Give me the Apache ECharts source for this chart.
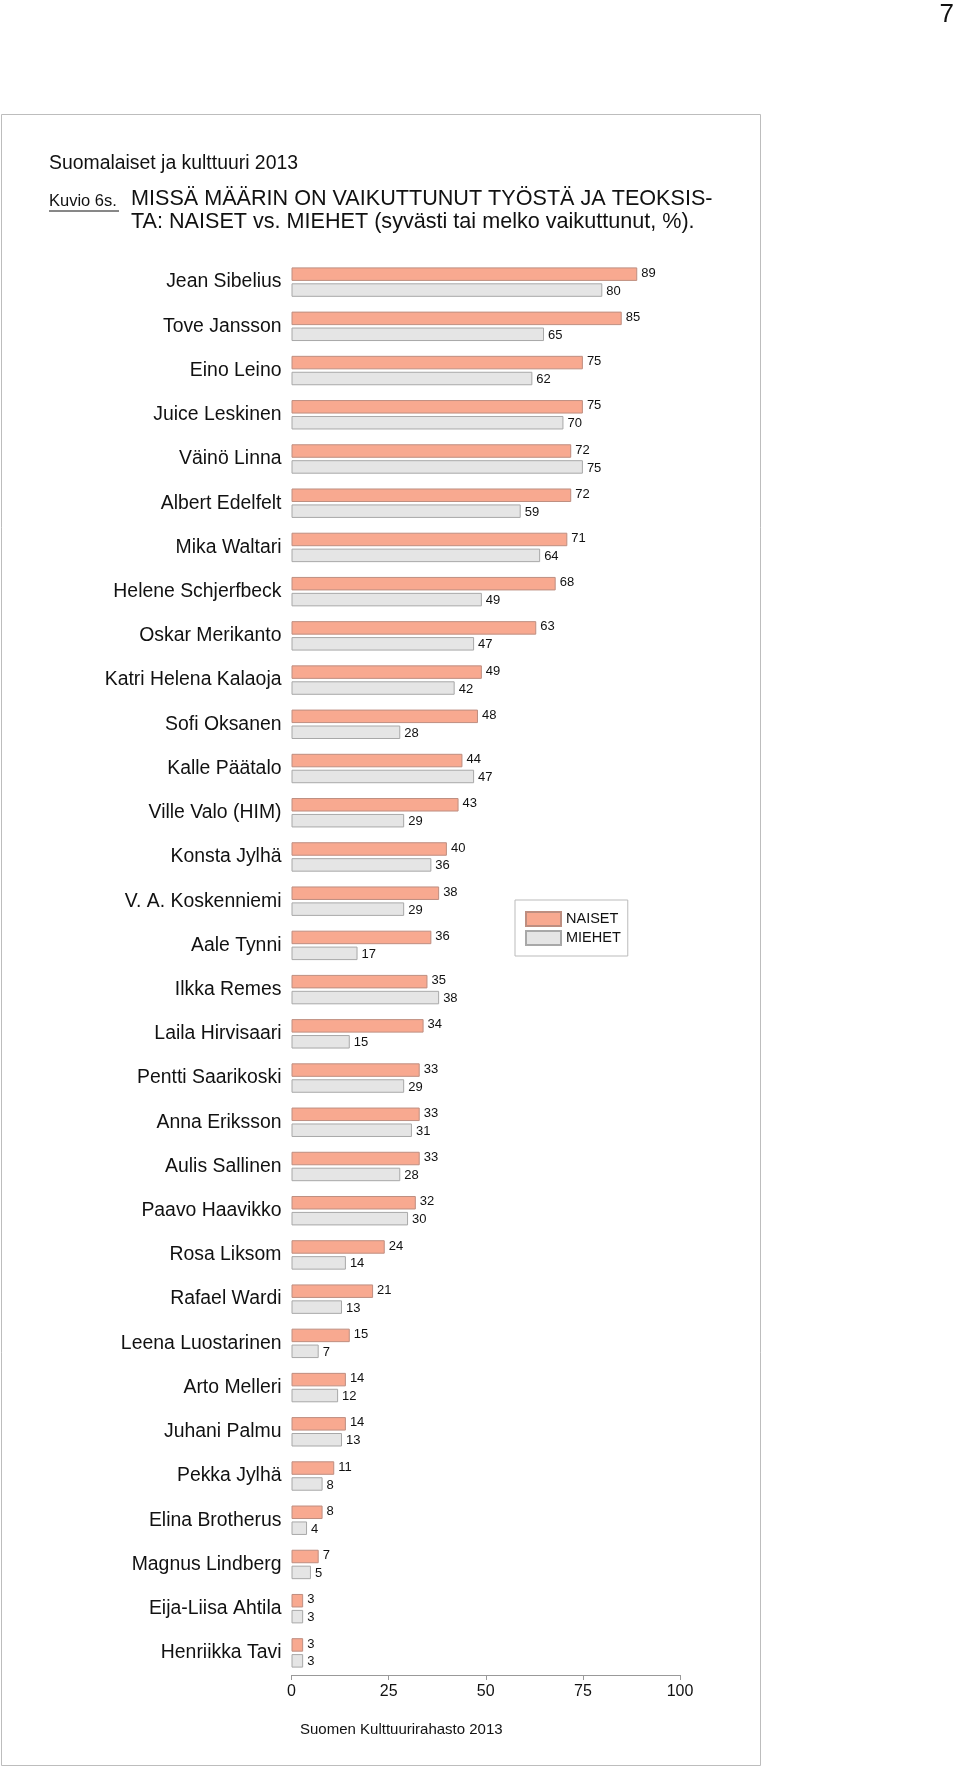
<!DOCTYPE html>
<html>
<head>
<meta charset="utf-8">
<script src="https://cdn.jsdelivr.net/npm/echarts@6/dist/echarts.min.js"></script>
<style>
  html, body { margin: 0; padding: 0; background: #fff; }
  #chart { width: 960px; height: 1770px; }
</style>
</head>
<body>
<div id="chart"></div>
<script>
var names = [
  'Jean Sibelius', 'Tove Jansson', 'Eino Leino', 'Juice Leskinen', 'Väinö Linna',
  'Albert Edelfelt', 'Mika Waltari', 'Helene Schjerfbeck', 'Oskar Merikanto',
  'Katri Helena Kalaoja', 'Sofi Oksanen', 'Kalle Päätalo', 'Ville Valo (HIM)',
  'Konsta Jylhä', 'V. A. Koskenniemi', 'Aale Tynni', 'Ilkka Remes', 'Laila Hirvisaari',
  'Pentti Saarikoski', 'Anna Eriksson', 'Aulis Sallinen', 'Paavo Haavikko',
  'Rosa Liksom', 'Rafael Wardi', 'Leena Luostarinen', 'Arto Melleri', 'Juhani Palmu',
  'Pekka Jylhä', 'Elina Brotherus', 'Magnus Lindberg', 'Eija-Liisa Ahtila', 'Henriikka Tavi'
];
var naiset = [89, 85, 75, 75, 72, 72, 71, 68, 63, 49, 48, 44, 43, 40, 38, 36, 35, 34, 33, 33, 33, 32, 24, 21, 15, 14, 14, 11, 8, 7, 3, 3];
var miehet = [80, 65, 62, 70, 75, 59, 64, 49, 47, 42, 28, 47, 29, 36, 29, 17, 38, 15, 29, 31, 28, 30, 14, 13, 7, 12, 13, 8, 4, 5, 3, 3];
var xTicks = [0, 25, 50, 75, 100];

var font = '"Liberation Sans", Arial, Helvetica, sans-serif';

var myChart = echarts.init(document.getElementById('chart'));
var option;

option = {
  backgroundColor: '#fff',
  animation: false,
  textStyle: { fontFamily: font },
  graphic: [
    { type: 'rect', shape: { x: 1.5, y: 114.5, width: 759, height: 1651 },
      style: { fill: 'none', stroke: '#bdbdbd', lineWidth: 1 } },
    { type: 'text', right: 6, top: 2,
      style: { text: '7', font: '26px ' + font, fill: '#111' } },
    { type: 'text', x: 49, y: 164,
      style: { text: 'Suomalaiset ja kulttuuri 2013', font: '19.4px ' + font, fill: '#111', textVerticalAlign: 'middle' } },
    { type: 'text', x: 49, y: 201,
      style: { text: 'Kuvio 6s.', font: '16.5px ' + font, fill: '#111', textVerticalAlign: 'middle' } },
    { type: 'line', shape: { x1: 49, y1: 211, x2: 119, y2: 211 },
      style: { stroke: '#111', lineWidth: 1 } },
    { type: 'text', x: 131, y: 199,
      style: { text: 'MISSÄ MÄÄRIN ON VAIKUTTUNUT TYÖSTÄ JA TEOKSIS-', font: '21.6px ' + font, fill: '#111', textVerticalAlign: 'middle' } },
    { type: 'text', x: 131, y: 222,
      style: { text: 'TA: NAISET vs. MIEHET (syvästi tai melko vaikuttunut, %).', font: '21.6px ' + font, fill: '#111', textVerticalAlign: 'middle' } },
    { type: 'text', x: 300, y: 1730,
      style: { text: 'Suomen Kulttuurirahasto 2013', font: '15px ' + font, fill: '#111', textVerticalAlign: 'middle' } }
  ],
  legend: {
    orient: 'vertical',
    left: 515,
    top: 900,
    padding: [11, 7, 10, 10],
    itemWidth: 35,
    itemHeight: 14,
    itemGap: 3,
    borderColor: '#bbb',
    borderWidth: 1,
    icon: 'rect',
    textStyle: { fontSize: 14.5, color: '#111', fontFamily: font },
    data: ['NAISET', 'MIEHET']
  },
  grid: {
    left: 291.5,
    width: 388.5,
    top: 260,
    height: 1415
  },
  xAxis: {
    type: 'value',
    min: 0,
    max: 100,
    interval: 25,
    axisLine: { show: true, lineStyle: { color: '#999' } },
    axisTick: { show: true, length: 5, lineStyle: { color: '#999' } },
    axisLabel: {
      fontSize: 16, color: '#111', margin: 9,
      formatter: function (v) { return xTicks.indexOf(v) >= 0 ? String(v) : ''; }
    },
    splitLine: { show: false }
  },
  yAxis: {
    type: 'category',
    inverse: true,
    data: names,
    axisLine: { show: false },
    axisTick: { show: false },
    axisLabel: { fontSize: 19.4, color: '#111', margin: 10 }
  },
  series: [
    {
      name: 'NAISET',
      type: 'bar',
      data: naiset,
      barWidth: 13.5,
      barGap: '18%',
      itemStyle: { color: '#F8A990', borderColor: '#BE8E80', borderWidth: 1 },
      label: { show: true, position: 'right', distance: 4, offset: [0, -1], fontSize: 13, color: '#111' }
    },
    {
      name: 'MIEHET',
      type: 'bar',
      data: miehet,
      barWidth: 13.5,
      barGap: '18%',
      itemStyle: { color: '#E5E5E5', borderColor: '#A8A8A8', borderWidth: 1 },
      label: { show: true, position: 'right', distance: 4, offset: [0, 1], fontSize: 13, color: '#111' }
    }
  ]
};

option && myChart.setOption(option);
</script>
</body>
</html>
